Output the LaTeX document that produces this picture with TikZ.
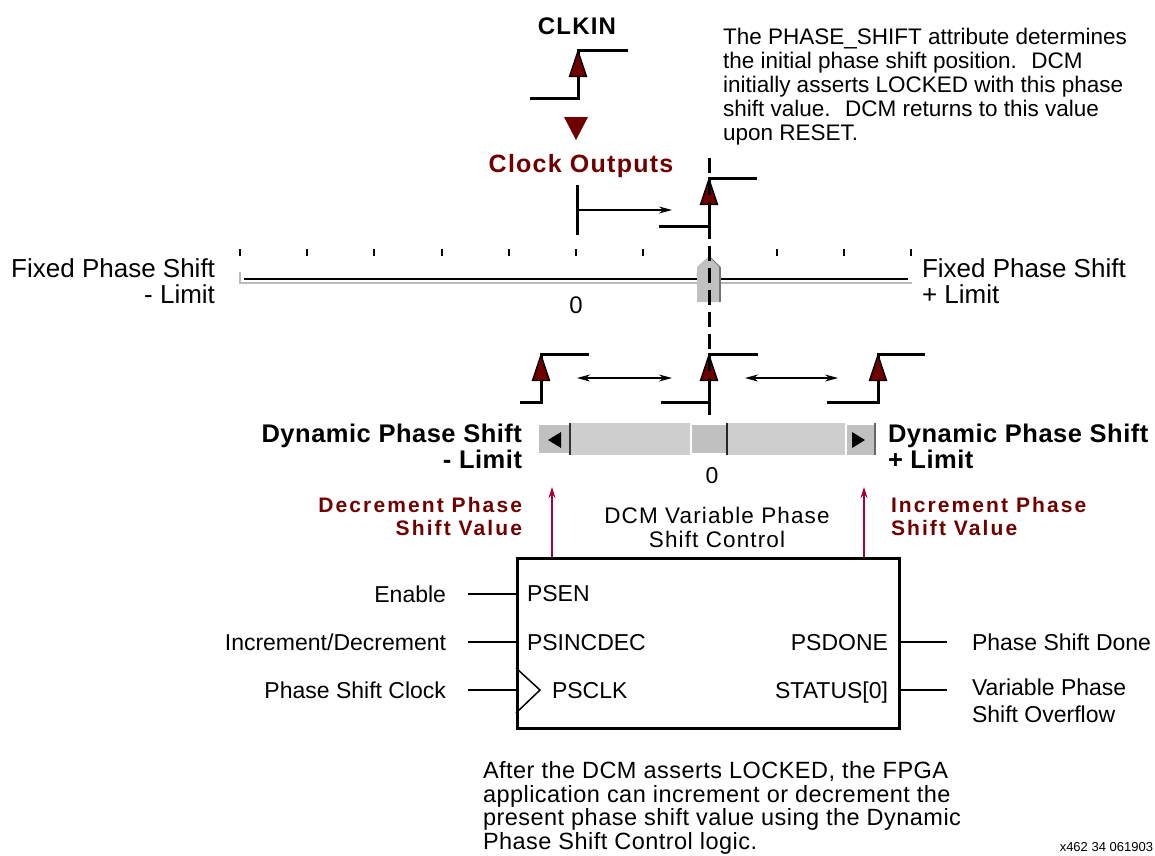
\documentclass[tikz,border=0pt]{standalone}
\usepackage{fontspec}
\setmainfont{Liberation Sans}
\newfontfamily\lsA[LetterSpace=2]{Liberation Sans}
\newfontfamily\lsB[LetterSpace=5]{Liberation Sans}
\newfontfamily\lsC[LetterSpace=10]{Liberation Sans}
\usetikzlibrary{arrows.meta}
\definecolor{dred}{RGB}{112,0,0}
\definecolor{mag}{RGB}{165,0,60}
\definecolor{trackgray}{RGB}{206,206,206}
\definecolor{btngray}{RGB}{192,192,192}
\newcommand\fsz[2]{\fontsize{#1}{#2}\selectfont}
\newcommand\clkwave[5]{%
  \draw[wave] (#1,#4) -- (#2,#4) -- (#2,#5) -- (#3,#5);
  \draw[edgetri] (#2,#5+1) -- (#2+8.5,#5+26.5) -- (#2-8.5,#5+26.5) -- cycle;}
\begin{document}
\begin{tikzpicture}[x=1pt,y=-1pt,
  txt/.style={inner sep=0pt, outer sep=0pt, font=\fsz{23}{24}},
  wave/.style={line width=3pt, line join=miter},
  edgetri/.style={fill=dred, draw=black, line width=1.4pt, line join=miter},
  pinline/.style={line width=1.5pt},
  thinarr/.style={line width=1.1pt, -{Stealth[length=13pt,width=7pt]}},
  dblarr/.style={line width=1.1pt, {Stealth[length=13pt,width=7pt]}-{Stealth[length=13pt,width=7pt]}},
  magarr/.style={draw=mag, line width=1.3pt, -{Stealth[length=11pt,width=7pt]}},
  tick/.style={line width=1.3pt},
]
\useasboundingbox (0,0) rectangle (1155,855);

% ---------- CLKIN ----------
\node[txt, anchor=base, font=\lsB\bfseries\fsz{24}{26}] (clkin) at (577,34) {CLKIN};
\clkwave{530}{578}{628}{98}{50}
\fill[dred] (564,117) -- (588,117) -- (576,140) -- cycle;
\node[txt, anchor=base, text=dred, font=\lsB\bfseries\fsz{25}{26}] (clkout) at (581,172) {Clock Outputs};

% ---------- top right note (base = last line) ----------
\node[txt, anchor=base west, align=left, font=\fsz{22.5}{24}] (note) at (723,140)
 {The PHASE\_SHIFT attribute determines\\the initial phase shift position.~ DCM\\initially asserts LOCKED with this phase\\shift value.~ DCM returns to this value\\upon RESET.};

% ---------- clock output shift ----------
\coordinate (zt) at (577,185);
\coordinate (zb) at (577,235);
\draw[wave] (zt) -- (zb);
\coordinate (shA) at (577,210);
\coordinate (shB) at (672,210);
\draw[thinarr] (shA) -- (shB);
\clkwave{659}{709}{757}{226}{178}

% ---------- fixed ruler ----------
\foreach \tx in {240,307,374,442,509,576,643,710,777,844,911}
  \draw[tick] (\tx,249) -- (\tx,256);
\draw[line width=1.3pt, gray!55] (240,272) -- (240,283) -- (912,283);
\draw[line width=1.4pt] (244,279) -- (908,279);
\fill[btngray] (697,267) -- (709,256) -- (720,267) -- (720,302) -- (697,302) -- cycle;
\draw[line width=1.3pt, black!55] (720,267) -- (720,302);
\draw[line width=1pt, black!55] (709,256) -- (720,267);

\node[txt, anchor=base east, align=right, font=\fsz{26}{26}] (fixL) at (215,303) {Fixed Phase Shift\\- Limit};
\node[txt, anchor=base west, align=left, font=\fsz{26}{26}] (fixR) at (922,303) {Fixed Phase Shift\\+ Limit};
\node[txt, anchor=base, font=\fsz{24}{24}] (zeroA) at (576,313) {0};

% ---------- dynamic waves ----------
\clkwave{520}{541}{589}{402}{354}
\clkwave{661}{709}{758}{402}{354}
\clkwave{827}{878}{925}{402}{354}
\coordinate (dA1) at (577,378);
\coordinate (dA2) at (672,378);
\coordinate (dB1) at (745,378);
\coordinate (dB2) at (838,378);
\draw[dblarr] (dA1) -- (dA2);
\draw[dblarr] (dB1) -- (dB2);

% dashed reference line
\coordinate (dashT) at (709,158);
\coordinate (dashB) at (709,420);
\draw[line width=3pt, dash pattern=on 15pt off 7pt] (dashT) -- (dashB);

% ---------- slider ----------
\fill[trackgray] (537,423) rectangle (875,455);
% left button
\fill[btngray] (537,423) rectangle (570,455);
\draw[white, line width=1.5pt] (538,455) -- (538,424) -- (569,424);
\draw[black!80, line width=1.3pt] (570,423) -- (570,455);
\draw[white, line width=1.2pt] (538,454) -- (569,454);
\fill[black] (548,440) -- (561,432) -- (561,448) -- cycle;
% right button
\fill[btngray] (845,423) rectangle (875,455);
\draw[white, line width=1.5pt] (846,455) -- (846,424) -- (874,424);
\draw[black!60, line width=1.3pt] (875,423) -- (875,455);
\fill[black] (865,440) -- (852,432) -- (852,448) -- cycle;
% thumb
\fill[btngray] (690,423) rectangle (727,455);
\draw[white, line width=1.5pt] (691,455) -- (691,424) -- (726,424);
\draw[white, line width=1.2pt] (691,454) -- (726,454);
\draw[black!85, line width=1.3pt] (727,423) -- (727,455);

\node[txt, anchor=base east, align=right, font=\lsA\bfseries\fsz{25.5}{26}] (dynL) at (522,468) {Dynamic Phase Shift\\- Limit};
\node[txt, anchor=base west, align=left, font=\lsA\bfseries\fsz{25.5}{26}] (dynR) at (888,468) {Dynamic Phase Shift\\+ Limit};
\node[txt, anchor=base, font=\fsz{23}{24}] (zeroB) at (712,483) {0};

\node[txt, anchor=base east, align=right, text=dred, font=\lsC\bfseries\fsz{21}{23}] (decr) at (522,535) {Decrement Phase\\Shift Value};
\node[txt, anchor=base west, align=left, text=dred, font=\lsC\bfseries\fsz{21}{23}] (incr) at (891,535) {Increment Phase\\Shift Value};

% ---------- DCM box ----------
\node[draw, line width=2.6pt, minimum width=382pt, minimum height=170pt, inner sep=0pt, anchor=north west] (box) at (516,557) {};
\node[txt, anchor=base, align=center, font=\lsB\fsz{22.5}{24}] (title) at (717,547) {DCM Variable Phase\\Shift Control};

\coordinate (decTip) at (552,487);
\coordinate (incTip) at (864,487);
\draw[magarr] (decTip |- box.north) -- (decTip);
\draw[magarr] (incTip |- box.north) -- (incTip);

\node[txt, anchor=base west] (psen) at (527,601) {PSEN};
\node[txt, anchor=base west] (psinc) at (527,650) {PSINCDEC};
\node[txt, anchor=base west] (psclk) at (552,698) {PSCLK};
\node[txt, anchor=base east] (psdone) at (888,650) {PSDONE};
\node[txt, anchor=base east] (status) at (888,698) {STATUS[0]};

\coordinate (clkT) at (516,668);
\coordinate (clkM) at (540,690);
\coordinate (clkB) at (516,713);
\draw[line width=1.5pt] (clkT) -- (clkM) -- (clkB);

\node[txt, anchor=base east] (enable) at (446,602) {Enable};
\node[txt, anchor=base east] (incdec) at (446,650) {Increment/Decrement};
\node[txt, anchor=base east] (psclock) at (446,698) {Phase Shift Clock};
\node[txt, anchor=base west] (done) at (972,650) {Phase Shift Done};
\node[txt, anchor=base west, align=left, font=\fsz{23}{27}] (ovf) at (972,722) {Variable Phase\\Shift Overflow};

\coordinate (inEN) at (468,594);
\coordinate (inID) at (468,642);
\coordinate (inCK) at (468,690);
\coordinate (outDN) at (947,642);
\coordinate (outST) at (947,690);
\draw[pinline] (inEN) -- (inEN -| box.west);
\draw[pinline] (inID) -- (inID -| box.west);
\draw[pinline] (inCK) -- (inCK -| box.west);
\draw[pinline] (outDN -| box.east) -- (outDN);
\draw[pinline] (outST -| box.east) -- (outST);

% ---------- bottom note ----------
\node[txt, anchor=base west, align=left, font=\lsA\fsz{23.5}{23.5}] (bottom) at (483,849)
 {After the DCM asserts LOCKED, the FPGA\\application can increment or decrement the\\present phase shift value using the Dynamic\\Phase Shift Control logic.};
\node[txt, anchor=base east, font=\fsz{13}{14}] (fig) at (1153,851) {x462 34 061903};
\end{tikzpicture}
\end{document}
